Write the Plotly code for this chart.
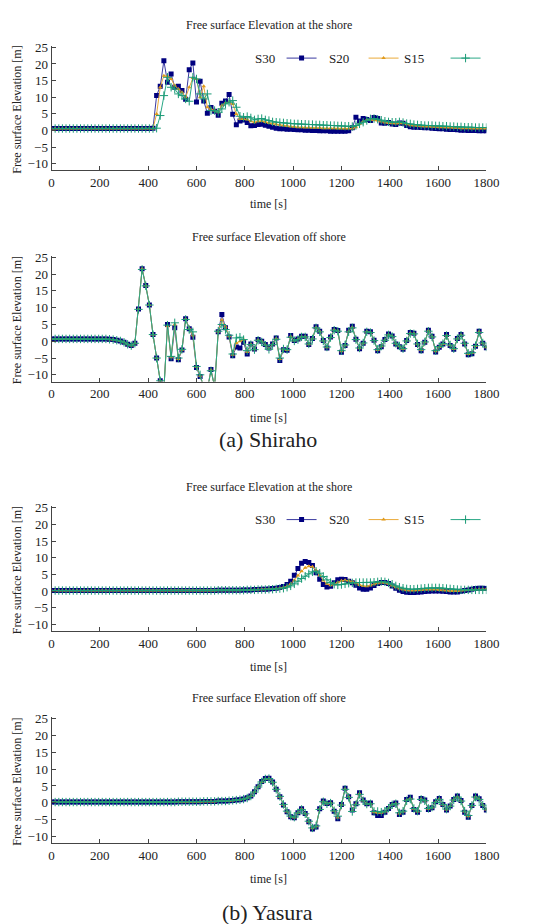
import plotly.graph_objects as go

W, H = 545, 924

# ---------------- data ----------------
time_s = list(range(0, 1801, 15))  # sampling instants [s]

x_ticks = [0, 200, 400, 600, 800, 1000, 1200, 1400, 1600, 1800]
y_ticks = [-10, -5, 0, 5, 10, 15, 20, 25]
series_names = ["S30", "S20", "S15"]

# (a) Shiraho - at the shore
shiraho_shore_s30 = [
    0.6, 0.6, 0.6, 0.6, 0.6, 0.6, 0.6, 0.6, 0.6, 0.6,
    0.6, 0.6, 0.6, 0.6, 0.6, 0.6, 0.6, 0.6, 0.6, 0.6,
    0.6, 0.6, 0.6, 0.6, 0.6, 0.6, 0.6, 0.6, 0.7, 10.5,
    13.3, 21.0, 14.5, 17.0, 13.0, 13.3, 12.0, 9.4, 18.3, 20.3,
    8.6, 14.8, 8.9, 5.2, 6.9, 5.8, 4.6, 8.2, 8.9, 10.8,
    4.9, 1.7, 2.9, 3.2, 2.4, 1.4, 1.5, 1.8, 1.9, 1.6,
    1.3, 1.0, 0.7, 0.5, 0.5, 0.4, 0.4, 0.3, 0.2, 0.2,
    0.1, 0.1, 0.0, 0.0, -0.1, -0.1, -0.1, -0.2, -0.2, -0.2,
    -0.2, -0.2, -0.1, 0.8, 4.0, 2.9, 3.6, 3.3, 3.0, 3.9,
    3.6, 2.3, 2.2, 2.4, 2.0, 1.8, 2.3, 2.2, 1.5, 1.1,
    1.0, 1.0, 0.9, 0.8, 0.8, 0.7, 0.6, 0.5, 0.5, 0.4,
    0.3, 0.3, 0.2, 0.1, 0.1, 0.0, 0.0, 0.0, -0.1, -0.1,
    -0.1]
shiraho_shore_s20 = [
    0.6, 0.6, 0.6, 0.6, 0.6, 0.6, 0.6, 0.6, 0.6, 0.6,
    0.6, 0.6, 0.6, 0.6, 0.6, 0.6, 0.6, 0.6, 0.6, 0.6,
    0.6, 0.6, 0.6, 0.6, 0.6, 0.6, 0.6, 0.6, 0.6, 5.0,
    13.0, 16.5, 16.3, 15.5, 13.5, 12.5, 11.5, 10.0, 13.0, 15.8,
    15.5, 10.0, 13.3, 7.0, 6.5, 6.0, 5.5, 7.5, 8.3, 8.5,
    8.0, 5.0, 3.5, 3.5, 3.3, 2.8, 2.5, 2.8, 2.9, 2.6,
    2.3, 2.1, 1.9, 1.7, 1.5, 1.4, 1.2, 1.1, 1.0, 1.0,
    0.9, 0.9, 0.8, 0.8, 0.8, 0.7, 0.7, 0.7, 0.7, 0.6,
    0.6, 0.6, 0.6, 0.6, 1.0, 2.0, 2.8, 3.2, 3.3, 3.2,
    3.0, 2.7, 2.4, 2.3, 2.2, 2.1, 2.2, 2.2, 1.9, 1.6,
    1.5, 1.4, 1.3, 1.2, 1.2, 1.1, 1.1, 1.0, 1.0, 0.9,
    0.9, 0.8, 0.8, 0.7, 0.7, 0.7, 0.6, 0.6, 0.6, 0.6,
    0.6]
shiraho_shore_s15 = [
    0.6, 0.6, 0.6, 0.6, 0.6, 0.6, 0.6, 0.6, 0.6, 0.6,
    0.6, 0.6, 0.6, 0.6, 0.6, 0.6, 0.6, 0.6, 0.6, 0.6,
    0.6, 0.6, 0.6, 0.6, 0.6, 0.6, 0.6, 0.6, 0.6, 0.7,
    4.5, 10.5, 16.0, 13.0, 12.5, 11.0, 10.5, 9.5, 8.8, 16.0,
    15.5, 11.0, 9.5, 11.0, 6.0, 6.0, 5.5, 6.5, 8.0, 8.5,
    9.0, 7.0, 4.3, 4.0, 4.2, 3.8, 3.2, 3.5, 3.6, 3.2,
    3.0, 2.6, 2.5, 2.4, 2.3, 2.2, 2.1, 2.0, 2.0, 1.9,
    1.9, 1.8, 1.8, 1.7, 1.7, 1.6, 1.6, 1.5, 1.5, 1.4,
    1.4, 1.3, 1.3, 1.2, 1.5, 2.0, 2.5, 3.0, 3.5, 3.6,
    3.4, 3.1, 2.8, 2.6, 2.5, 2.5, 2.6, 2.4, 2.1, 2.0,
    1.8, 1.7, 1.6, 1.5, 1.5, 1.5, 1.4, 1.4, 1.3, 1.3,
    1.2, 1.2, 1.1, 1.1, 1.0, 1.0, 1.0, 0.9, 0.9, 0.9,
    0.9]

# (a) Shiraho - off shore
shiraho_off_s30 = [
    0.7, 0.7, 0.7, 0.7, 0.7, 0.7, 0.7, 0.7, 0.7, 0.7,
    0.7, 0.7, 0.7, 0.7, 0.7, 0.7, 0.6, 0.5, 0.3, 0.1,
    -0.3, -0.9, -1.3, -0.6, 9.6, 21.6, 16.6, 10.8, 2.0, -5.0,
    -11.8, -14.5, 5.0, -5.2, 4.0, -5.5, -2.6, 6.7, 3.7, 1.2,
    -7.8, -10.5, -13.5, -14.5, -8.4, -13.5, 2.8, 8.0, 4.0, 1.3,
    -4.3, -1.7, -2.0, -0.3, -3.8, -0.8, -2.3, 0.5, 0.0, -1.0,
    -2.0, -0.8, 1.0, -5.7, -2.5, -2.7, 1.7, 0.2, 0.7, 1.5,
    1.5, -1.0, 0.8, 4.3, 3.0, 0.2, -2.0, 1.3, 3.5, 3.2,
    -3.3, -1.3, 3.3, 4.5, 0.6, -2.2, -0.6, 3.0, 2.8, 0.3,
    -2.8, -1.6, 0.5, 2.2, 1.6, -0.8, -1.6, -2.4, 0.2, 2.6,
    2.4, -1.0, -2.8, -0.3, 3.3, 1.5, -3.2, -1.8, -0.8, 2.0,
    -1.3, -2.4, 0.8, 2.0, -0.8, -4.0, -3.7, -1.5, 3.0, -0.6,
    -1.9]
shiraho_off_s20 = [
    0.7, 0.7, 0.7, 0.7, 0.7, 0.7, 0.7, 0.7, 0.7, 0.7,
    0.7, 0.7, 0.7, 0.7, 0.7, 0.7, 0.6, 0.5, 0.3, 0.1,
    -0.3, -0.9, -1.3, -0.6, 9.6, 21.6, 16.6, 10.8, 2.0, -5.0,
    -11.8, -14.5, 4.5, -4.8, 5.0, -5.3, -2.5, 6.6, 3.8, 1.8,
    -7.6, -10.3, -13.5, -14.5, -8.6, -13.5, 2.9, 6.3, 4.3, 1.5,
    -4.0, -0.5, 0.0, 0.5, -3.2, -0.9, -2.4, 0.4, 0.0, -1.1,
    -2.2, -0.9, 0.8, -5.3, -2.4, -2.6, 1.4, 0.2, 0.6, 1.4,
    1.4, -0.9, 0.8, 4.1, 3.0, 0.2, -1.8, 1.2, 3.4, 3.1,
    -3.0, -1.2, 3.0, 4.2, 0.6, -2.1, -0.6, 2.9, 2.7, 0.3,
    -2.6, -1.5, 0.4, 2.0, 1.5, -0.7, -1.5, -2.3, 0.2, 2.4,
    2.3, -0.9, -2.6, -0.3, 3.1, 1.4, -3.0, -1.7, -0.8, 1.8,
    -1.2, -2.3, 0.8, 1.9, -0.7, -3.8, -3.5, -1.4, 2.8, -0.6,
    -1.8]
shiraho_off_s15 = [
    0.7, 0.7, 0.7, 0.7, 0.7, 0.7, 0.7, 0.7, 0.7, 0.7,
    0.7, 0.7, 0.7, 0.7, 0.7, 0.7, 0.6, 0.5, 0.3, 0.1,
    -0.3, -0.9, -1.3, -0.6, 9.5, 21.4, 16.5, 10.8, 2.0, -5.0,
    -11.8, -14.5, 4.8, -4.5, 5.5, -5.0, -2.4, 6.5, 3.5, 2.8,
    -7.5, -10.0, -13.5, -14.5, -8.8, -13.5, 3.0, 5.0, 3.5, 1.8,
    -3.8, 1.0, 1.2, 0.5, -2.8, -1.0, -2.5, 0.3, -0.2, -1.2,
    -2.4, -1.0, 0.6, -5.0, -2.3, -2.5, 1.2, 0.1, 0.5, 1.3,
    1.3, -0.8, 0.7, 4.0, 2.8, 0.1, -1.7, 1.1, 3.3, 3.0,
    -2.8, -1.1, 2.8, 4.0, 0.5, -2.0, -0.5, 2.8, 2.6, 0.2,
    -2.5, -1.4, 0.3, 1.9, 1.4, -0.6, -1.4, -2.2, 0.1, 2.3,
    2.2, -0.8, -2.5, -0.2, 3.0, 1.3, -2.8, -1.6, -0.7, 1.7,
    -1.1, -2.2, 0.7, 1.8, -0.6, -3.6, -3.4, -1.3, 2.6, -0.5,
    -1.7]

# (b) Yasura - at the shore
yasura_shore_s30 = [
    0.2, 0.2, 0.2, 0.2, 0.2, 0.2, 0.2, 0.2, 0.2, 0.2,
    0.2, 0.2, 0.2, 0.2, 0.2, 0.2, 0.2, 0.2, 0.2, 0.2,
    0.2, 0.2, 0.2, 0.2, 0.2, 0.2, 0.2, 0.2, 0.2, 0.2,
    0.2, 0.2, 0.2, 0.2, 0.2, 0.2, 0.2, 0.2, 0.2, 0.2,
    0.2, 0.2, 0.2, 0.2, 0.2, 0.2, 0.3, 0.3, 0.3, 0.3,
    0.3, 0.3, 0.3, 0.4, 0.4, 0.4, 0.5, 0.5, 0.6, 0.6,
    0.7, 0.8, 0.9, 1.1, 1.4, 2.0, 3.0, 4.8, 6.8, 8.4,
    8.9, 8.6, 7.7, 5.5, 3.6, 2.0, 1.3, 1.5, 2.5, 3.4,
    3.6, 3.5, 3.0, 2.5, 1.8, 1.0, 0.6, 0.6, 1.0, 1.7,
    2.3, 2.6, 2.6, 2.3, 1.6, 0.9, 0.3, -0.1, -0.3, -0.4,
    -0.4, -0.3, -0.2, -0.1, 0.0, 0.1, 0.1, 0.1, 0.0, -0.1,
    -0.2, -0.2, -0.2, 0.0, 0.2, 0.4, 0.6, 0.8, 0.9, 0.9,
    0.8]
yasura_shore_s20 = [
    0.2, 0.2, 0.2, 0.2, 0.2, 0.2, 0.2, 0.2, 0.2, 0.2,
    0.2, 0.2, 0.2, 0.2, 0.2, 0.2, 0.2, 0.2, 0.2, 0.2,
    0.2, 0.2, 0.2, 0.2, 0.2, 0.2, 0.2, 0.2, 0.2, 0.2,
    0.2, 0.2, 0.2, 0.2, 0.2, 0.2, 0.2, 0.2, 0.2, 0.2,
    0.2, 0.2, 0.2, 0.2, 0.2, 0.2, 0.3, 0.3, 0.3, 0.3,
    0.3, 0.3, 0.3, 0.4, 0.4, 0.4, 0.5, 0.5, 0.6, 0.6,
    0.7, 0.7, 0.8, 0.9, 1.1, 1.5, 2.2, 3.3, 4.7, 6.0,
    7.0, 7.5, 7.3, 6.3, 4.8, 3.2, 2.2, 1.8, 2.1, 2.7,
    3.1, 3.3, 3.2, 2.9, 2.4, 1.9, 1.6, 1.5, 1.7, 2.1,
    2.4, 2.6, 2.5, 2.2, 1.7, 1.2, 0.8, 0.5, 0.3, 0.2,
    0.2, 0.3, 0.4, 0.5, 0.5, 0.5, 0.5, 0.4, 0.3, 0.2,
    0.1, 0.1, 0.1, 0.2, 0.3, 0.4, 0.5, 0.6, 0.6, 0.6,
    0.6]
yasura_shore_s15 = [
    0.2, 0.2, 0.2, 0.2, 0.2, 0.2, 0.2, 0.2, 0.2, 0.2,
    0.2, 0.2, 0.2, 0.2, 0.2, 0.2, 0.2, 0.2, 0.2, 0.2,
    0.2, 0.2, 0.2, 0.2, 0.2, 0.2, 0.2, 0.2, 0.2, 0.2,
    0.2, 0.2, 0.2, 0.2, 0.2, 0.2, 0.2, 0.2, 0.2, 0.2,
    0.2, 0.2, 0.2, 0.2, 0.2, 0.2, 0.3, 0.3, 0.3, 0.3,
    0.3, 0.3, 0.3, 0.3, 0.4, 0.4, 0.4, 0.5, 0.5, 0.5,
    0.6, 0.6, 0.7, 0.8, 0.9, 1.2, 1.6, 2.2, 3.0, 3.8,
    4.5, 5.2, 5.8, 6.0, 5.4, 4.4, 3.4, 2.6, 2.1, 1.9,
    2.0, 2.2, 2.4, 2.5, 2.6, 2.6, 2.6, 2.6, 2.6, 2.7,
    2.8, 2.9, 2.8, 2.5, 2.1, 1.6, 1.2, 0.9, 0.7, 0.6,
    0.6, 0.7, 0.8, 0.9, 1.0, 1.0, 1.0, 1.0, 0.9, 0.8,
    0.7, 0.6, 0.5, 0.4, 0.4, 0.4, 0.4, 0.4, 0.4, 0.4,
    0.4]

# (b) Yasura - off shore
yasura_off_s30 = [
    0.2, 0.2, 0.2, 0.2, 0.2, 0.2, 0.2, 0.2, 0.2, 0.2,
    0.2, 0.2, 0.2, 0.2, 0.2, 0.2, 0.2, 0.2, 0.2, 0.2,
    0.2, 0.2, 0.2, 0.2, 0.2, 0.2, 0.2, 0.2, 0.2, 0.2,
    0.2, 0.2, 0.2, 0.2, 0.2, 0.3, 0.3, 0.3, 0.3, 0.3,
    0.3, 0.3, 0.4, 0.4, 0.4, 0.4, 0.5, 0.5, 0.5, 0.6,
    0.7, 0.8, 0.9, 1.1, 1.5, 2.0, 3.3, 4.8, 6.3, 7.2,
    7.3, 6.2, 4.0, 1.8, -0.7, -2.7, -4.2, -4.5, -3.0, -1.8,
    -3.2, -5.7, -7.8, -7.2, -1.8, 0.5, -0.2, 0.0, -2.5, -4.8,
    -0.5, 4.3, 1.8, -2.2, -0.3, 3.0, 0.8, -0.3, -0.1, -3.0,
    -3.8, -3.8, -2.8, -1.7, -0.5, -0.1, -3.5, -2.8, 1.0, 1.6,
    -2.0, -2.8, 1.3, 0.8, -2.0, -1.5, 0.3, 1.3, -0.5, -2.2,
    -1.0, 1.0, 2.0, 0.7, -2.8, -4.3, -0.8, 2.0, 1.2, -0.8,
    -2.2]
yasura_off_s20 = [
    0.2, 0.2, 0.2, 0.2, 0.2, 0.2, 0.2, 0.2, 0.2, 0.2,
    0.2, 0.2, 0.2, 0.2, 0.2, 0.2, 0.2, 0.2, 0.2, 0.2,
    0.2, 0.2, 0.2, 0.2, 0.2, 0.2, 0.2, 0.2, 0.2, 0.2,
    0.2, 0.2, 0.2, 0.2, 0.2, 0.3, 0.3, 0.3, 0.3, 0.3,
    0.3, 0.3, 0.4, 0.4, 0.4, 0.4, 0.5, 0.5, 0.5, 0.6,
    0.7, 0.8, 0.9, 1.1, 1.5, 2.0, 3.3, 4.8, 6.2, 7.1,
    7.2, 6.1, 4.0, 1.8, -0.6, -2.6, -4.1, -4.4, -3.0, -1.9,
    -3.2, -5.6, -7.6, -7.0, -1.9, 0.4, -0.2, 0.0, -2.4, -4.4,
    -0.6, 4.1, 1.8, -2.4, -0.4, 2.7, 0.7, -0.3, -0.2, -2.8,
    -3.0, -3.0, -2.6, -1.6, -0.5, -0.2, -3.2, -2.6, 0.8, 1.3,
    -1.8, -2.6, 1.1, 0.7, -1.8, -1.4, 0.2, 1.1, -0.5, -2.0,
    -1.0, 0.9, 1.8, 0.6, -2.6, -4.0, -0.8, 1.8, 1.1, -0.7,
    -2.0]
yasura_off_s15 = [
    0.2, 0.2, 0.2, 0.2, 0.2, 0.2, 0.2, 0.2, 0.2, 0.2,
    0.2, 0.2, 0.2, 0.2, 0.2, 0.2, 0.2, 0.2, 0.2, 0.2,
    0.2, 0.2, 0.2, 0.2, 0.2, 0.2, 0.2, 0.2, 0.2, 0.2,
    0.2, 0.2, 0.2, 0.2, 0.2, 0.3, 0.3, 0.3, 0.3, 0.3,
    0.3, 0.3, 0.4, 0.4, 0.4, 0.4, 0.5, 0.5, 0.5, 0.6,
    0.7, 0.8, 0.9, 1.1, 1.4, 2.0, 3.2, 4.7, 6.2, 7.1,
    7.2, 6.1, 4.0, 1.9, -0.5, -2.5, -4.0, -4.3, -3.0, -2.0,
    -3.3, -5.5, -7.5, -6.9, -2.0, 0.3, -0.3, -0.1, -2.4, -4.0,
    -0.7, 4.0, 1.6, -2.6, -0.6, 2.5, 0.6, -0.4, -0.3, -2.6,
    -2.6, -2.8, -2.5, -1.6, -0.6, -0.3, -3.0, -2.5, 0.6, 1.1,
    -1.7, -2.5, 1.0, 0.6, -1.7, -1.3, 0.1, 1.0, -0.5, -1.9,
    -1.0, 0.8, 1.7, 0.5, -2.5, -3.8, -0.8, 1.7, 1.0, -0.7,
    -1.9]

panel_titles = ["Free surface Elevation at the shore", "Free surface Elevation off shore",
                "Free surface Elevation at the shore", "Free surface Elevation off shore"]
captions = ["(a) Shiraho", "(b) Yasura"]

# ---------------- layout helpers ----------------
def fx(px):
    return px / W

def fy(py):
    return 1 - py / H

SERIF = "'Liberation Serif', 'Times New Roman', Times, serif"
X_LEFT, X_RIGHT = 50, 498
# (top, bottom) pixel rows for each panel's plot area
panel_px = [(40, 165.7), (251.6, 378.4), (504, 630), (716.6, 843.4)]
title_py = [19.5, 233, 485, 697]
xlabel_py = [200, 415, 666, 880]
caption_py = [437, 913]
legend_py = [52.5, 517.5]

styles = [
    dict(line=dict(color="#3a3aa0", width=1),
         marker=dict(symbol="square", size=5, color="#00007f")),
    dict(line=dict(color="#eaaa3a", width=1),
         marker=dict(symbol="triangle-up", size=4, color="#e09a1c")),
    dict(line=dict(color="#2aa886", width=1),
         marker=dict(symbol="cross-thin", size=6, color="#1a9a76",
                     line=dict(color="#1a9a76", width=1))),
]

panels = [
    [shiraho_shore_s30, shiraho_shore_s20, shiraho_shore_s15],
    [shiraho_off_s30, shiraho_off_s20, shiraho_off_s15],
    [yasura_shore_s30, yasura_shore_s20, yasura_shore_s15],
    [yasura_off_s30, yasura_off_s20, yasura_off_s15],
]
legend_of_panel = {0: "legend", 2: "legend2"}

fig = go.Figure()
for p, series in enumerate(panels):
    ax = "" if p == 0 else str(p + 1)
    for k, vals in enumerate(series):
        tr = dict(x=time_s, y=vals, mode="lines+markers", xaxis="x" + ax, yaxis="y" + ax,
                  name=" ", showlegend=p in legend_of_panel, hoverinfo="skip", **styles[k])
        if p in legend_of_panel:
            tr["legend"] = legend_of_panel[p]
        fig.add_trace(go.Scatter(**tr))

axis_common = dict(showline=True, linecolor="#444", linewidth=1, mirror=False,
                   ticks="inside", ticklen=4, tickcolor="#444", showgrid=False,
                   zeroline=False, tickfont=dict(family=SERIF, size=13, color="#222"))
layout = dict(width=W, height=H, margin=dict(l=0, r=0, t=0, b=0),
              paper_bgcolor="white", plot_bgcolor="white", annotations=[])
for p, (top, bot) in enumerate(panel_px):
    ax = "" if p == 0 else str(p + 1)
    layout["xaxis" + ax] = dict(domain=[fx(X_LEFT), fx(X_RIGHT)], range=[0, 1800],
                                tickvals=x_ticks, anchor="y" + ax, **axis_common)
    layout["yaxis" + ax] = dict(domain=[fy(bot), fy(top)], range=[-12, 25.5],
                                tickvals=y_ticks, anchor="x" + ax, **axis_common)
    ann = layout["annotations"]
    ann.append(dict(text=panel_titles[p], x=fx((X_LEFT + X_RIGHT) / 2), y=fy(title_py[p]),
                    xref="paper", yref="paper", showarrow=False, xanchor="center", yanchor="middle",
                    font=dict(family=SERIF, size=12, color="#222")))
    ann.append(dict(text="time [s]", x=fx((X_LEFT + X_RIGHT) / 2), y=fy(xlabel_py[p]),
                    xref="paper", yref="paper", showarrow=False, xanchor="center", yanchor="middle",
                    font=dict(family=SERIF, size=12, color="#222")))
    ann.append(dict(text="Free surface Elevation [m]", x=fx(14), y=fy((top + bot) / 2 + 2),
                    xref="paper", yref="paper", showarrow=False, textangle=-90,
                    xanchor="center", yanchor="middle",
                    font=dict(family=SERIF, size=12, color="#222")))

for c, text in enumerate(captions):
    layout["annotations"].append(dict(text=text, x=fx(273), y=fy(caption_py[c]), xref="paper",
                                      yref="paper", showarrow=False, xanchor="center",
                                      yanchor="middle",
                                      font=dict(family=SERIF, size=22, color="#222")))

legend_text_right = [282, 359, 436]
for li, lname in enumerate(["legend", "legend2"]):
    layout[lname] = dict(orientation="h", x=fx(287), y=fy(legend_py[li]), xanchor="left",
                         yanchor="middle", bgcolor="rgba(0,0,0,0)", borderwidth=0,
                         font=dict(family=SERIF, size=12), entrywidth=37,
                         entrywidthmode="pixels", itemwidth=30, tracegroupgap=0)
    for k, nm in enumerate(series_names):
        layout["annotations"].append(dict(text=nm, x=fx(legend_text_right[k]), y=fy(legend_py[li]),
                                          xref="paper", yref="paper", showarrow=False,
                                          xanchor="right", yanchor="middle",
                                          font=dict(family=SERIF, size=13, color="#222")))

fig.update_layout(**layout)
fig.write_html("out.html")
